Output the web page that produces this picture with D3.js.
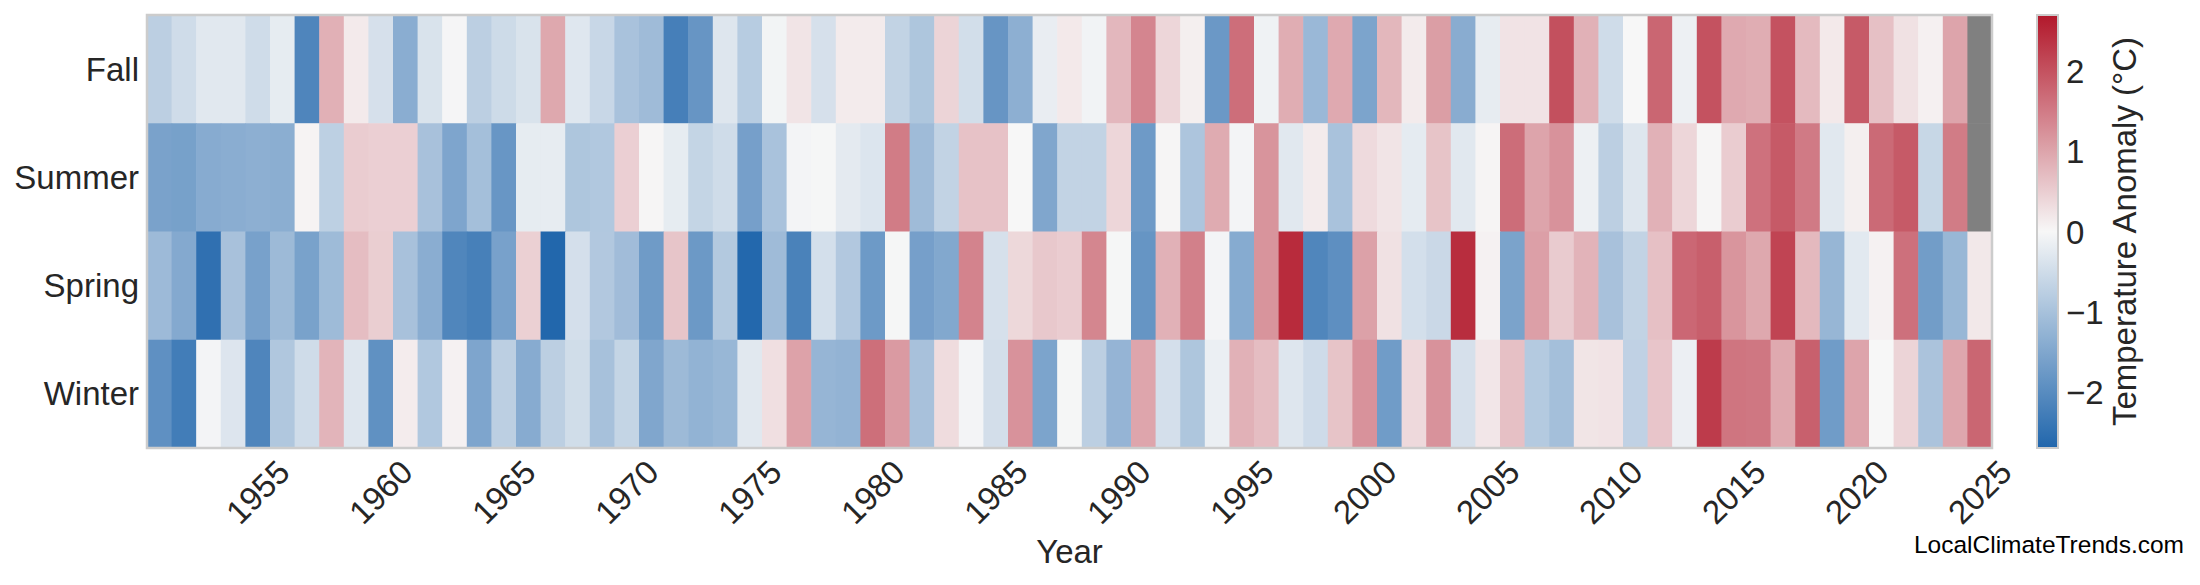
<!DOCTYPE html>
<html>
<head>
<meta charset="utf-8">
<script src="https://cdn.jsdelivr.net/npm/d3@7"></script>
<style>
  html, body { margin: 0; padding: 0; background: #ffffff; }
  svg { display: block; }
  text { font-family: "Liberation Sans", Arial, sans-serif; }
</style>
</head>
<body>
<svg id="chart" width="2200" height="585"></svg>
<script>
// ---------------- DATA ----------------
const years = d3.range(1951, 2026);   // 1951 … 2025
const seasons = ["Fall", "Summer", "Spring", "Winter"];
const tickYears = [1955, 1960, 1965, 1970, 1975, 1980, 1985, 1990, 1995, 2000, 2005, 2010, 2015, 2020, 2025];
const colorbarTicks = [-2, -1, 0, 1, 2];

const winter = [
  -1.92, -2.28, -0.05, -0.33, -2.12, -0.90, -0.50, 0.81, -0.32, -1.90,
   0.13, -0.88,  0.07, -1.53, -0.74, -1.41, -0.74, -0.49, -1.01, -0.64,
  -1.50, -1.14, -1.27, -1.20, -0.28,  0.29,  1.03, -1.22, -1.26,  1.65,
   1.13, -1.00,  0.33, -0.05, -0.46,  1.22, -1.55, -0.02, -0.74, -1.24,
   0.99, -0.44, -0.92, -0.15,  0.85,  0.70, -0.32, -0.52,  0.62,  1.22,
  -1.70,  0.36,  1.22, -0.42,  0.20,  0.66, -0.84, -1.05,  0.22,  0.24,
  -0.70,  0.60, -0.14,  2.28,  1.57,  1.55,  0.95,  1.83, -1.70,  1.01,
   0.00,  0.42, -0.96,  0.98,  1.76
];
const spring = [
  -1.13, -1.45, -2.51, -1.00, -1.60, -1.14, -1.59, -1.12,  0.70,  0.50,
  -1.00, -1.37, -2.11, -2.22, -1.60,  0.47, -2.69, -0.44, -0.87, -1.09,
  -1.72,  0.61, -1.75, -0.86, -2.67, -1.11, -2.18, -0.45, -0.87, -1.74,
  -0.02, -1.63, -1.48,  1.40, -0.42,  0.38,  0.57,  0.52,  1.37, -0.02,
  -1.83,  0.85,  1.44, -0.05, -1.42,  1.20,  2.47, -2.11, -1.93,  1.04,
   0.27, -0.45, -0.57,  2.45,  0.07, -1.57,  1.06,  0.53,  0.82, -1.00,
  -0.67,  0.66,  1.74,  1.84,  1.19,  0.96,  2.17,  0.75, -1.21, -0.26,
   0.07,  1.63, -1.68, -1.20,  0.18
];
const summer = [
  -1.58, -1.61, -1.41, -1.37, -1.34, -1.36,  0.05, -0.73,  0.52,  0.48,
   0.48, -1.00, -1.53, -1.05, -1.80, -0.21, -0.20, -0.92, -0.88,  0.48,
   0.03, -0.21, -0.64, -0.50, -1.63, -0.98, -0.05, -0.02, -0.24, -0.34,
   1.49, -1.11, -0.67,  0.64,  0.64,  0.00, -1.50, -0.67, -0.67,  0.40,
  -1.73,  0.03, -0.93,  0.92, -0.05,  1.20, -0.28,  0.15, -0.98,  0.35,
   0.23, -0.23,  0.62, -0.28,  0.04,  1.67,  1.00,  1.22, -0.13, -0.74,
  -0.31,  0.85,  0.40,  0.03,  0.52,  1.62,  1.90,  1.51, -0.28,  0.10,
   1.71,  1.90, -0.60,  1.49,  null
];
const fall = [
  -0.74, -0.50, -0.28, -0.28, -0.50, -0.21, -2.12,  0.86,  0.16, -0.42,
  -1.37, -0.38, -0.03, -0.74, -0.53, -0.38,  0.96, -0.30, -0.59, -0.98,
  -1.11, -2.23, -1.82, -0.32, -0.81, -0.06,  0.23, -0.42,  0.15,  0.15,
  -0.67, -0.92,  0.42, -0.47, -1.82, -1.34, -0.18,  0.17, -0.08,  0.77,
   1.38,  0.40,  0.10, -1.77,  1.66, -0.10,  0.90, -1.17,  0.94, -1.55,
   0.78,  0.15,  1.08, -1.39, -0.20,  0.24,  0.24,  2.02,  0.85, -0.50,
   0.00,  1.76, -0.13,  2.00,  0.94,  0.90,  2.00,  0.74,  0.17,  1.90,
   0.66,  0.27,  0.08,  1.00,  null
];

const seriesBySeason = { Fall: fall, Summer: summer, Spring: spring, Winter: winter };
const cells = [];
seasons.forEach(s => years.forEach((yr, i) => cells.push({ season: s, year: yr, value: seriesBySeason[s][i] })));

// ---------------- LAYOUT ----------------
const L = 147, R = 1992, T = 15, B = 448;
const vmax = 2.7;
const fontSize = 33;
const textColor = "#262626";

const svg = d3.select("#chart");

const x = d3.scaleBand().domain(years).range([L, R]).padding(0);
const y = d3.scaleBand().domain(seasons).range([T, B]).padding(0);
const color = d3.scaleLinear()
  .domain([-vmax, 0, vmax])
  .range(["#2166ac", "#f7f7f7", "#b2182b"])
  .clamp(true);

// cells
svg.append("g")
  .selectAll("rect")
  .data(cells)
  .join("rect")
  .attr("x", d => x(d.year))
  .attr("y", d => y(d.season))
  .attr("width", x.bandwidth() + 0.6)
  .attr("height", y.bandwidth() + 0.6)
  .attr("fill", d => d.value === null ? "#808080" : color(d.value));

// frame
svg.append("rect")
  .attr("x", L).attr("y", T).attr("width", R - L).attr("height", B - T)
  .attr("fill", "none").attr("stroke", "#cccccc").attr("stroke-width", 2.5);

// x axis
const xAxis = svg.append("g")
  .attr("transform", `translate(0,${B})`)
  .call(d3.axisBottom(x).tickValues(tickYears).tickSize(0).tickPadding(0));
xAxis.select(".domain").remove();
xAxis.selectAll("text")
  .attr("y", null).attr("dy", null)
  .attr("transform", "translate(0,44) rotate(-45)")
  .attr("text-anchor", "middle")
  .attr("dominant-baseline", "central")
  .attr("fill", textColor)
  .style("font-size", fontSize + "px")
  .style("font-family", "'Liberation Sans', Arial, sans-serif");

// y axis
const yAxis = svg.append("g")
  .attr("transform", `translate(${L},0)`)
  .call(d3.axisLeft(y).tickSize(0).tickPadding(8));
yAxis.select(".domain").remove();
yAxis.selectAll("text")
  .attr("dy", null)
  .attr("dominant-baseline", "central")
  .attr("fill", textColor)
  .style("font-size", fontSize + "px")
  .style("font-family", "'Liberation Sans', Arial, sans-serif");

// x label
svg.append("text")
  .attr("x", (L + R) / 2).attr("y", 563)
  .attr("text-anchor", "middle")
  .attr("fill", textColor)
  .style("font-size", fontSize + "px")
  .text("Year");

// colorbar
const CL = 2037, CW = 21;
const cy = d3.scaleLinear().domain([-vmax, vmax]).range([B, T]);
const defs = svg.append("defs");
const grad = defs.append("linearGradient")
  .attr("id", "cbgrad").attr("x1", 0).attr("y1", 1).attr("x2", 0).attr("y2", 0);
d3.range(0, 1.0001, 0.05).forEach(t => {
  grad.append("stop").attr("offset", t).attr("stop-color", color(-vmax + 2 * vmax * t));
});
svg.append("rect")
  .attr("x", CL).attr("y", T).attr("width", CW).attr("height", B - T)
  .attr("fill", "url(#cbgrad)")
  .attr("stroke", "#cccccc").attr("stroke-width", 2);

const cAxis = svg.append("g")
  .attr("transform", `translate(${CL + CW},0)`)
  .call(d3.axisRight(cy).tickValues(colorbarTicks).tickFormat(d3.format("d")).tickSize(0).tickPadding(8));
cAxis.select(".domain").remove();
cAxis.selectAll("text")
  .attr("dy", null)
  .attr("dominant-baseline", "central")
  .attr("fill", textColor)
  .style("font-size", fontSize + "px")
  .style("font-family", "'Liberation Sans', Arial, sans-serif");

svg.append("text")
  .attr("transform", `translate(2136,${(T + B) / 2}) rotate(-90)`)
  .attr("text-anchor", "middle")
  .attr("fill", textColor)
  .style("font-size", fontSize + "px")
  .text("Temperature Anomaly (°C)");

// watermark
svg.append("text")
  .attr("x", 2184).attr("y", 553)
  .attr("text-anchor", "end")
  .attr("fill", "#000000")
  .style("font-size", "24.5px")
  .text("LocalClimateTrends.com");
</script>
</body>
</html>
